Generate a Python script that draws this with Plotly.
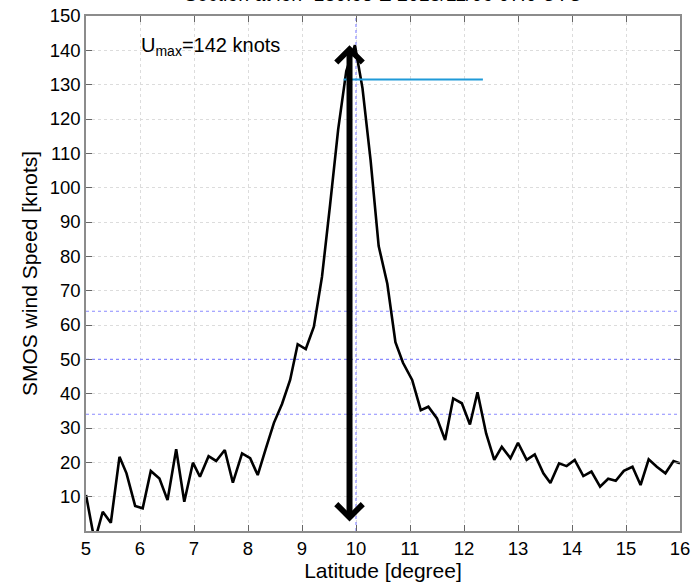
import plotly.graph_objects as go

# Latitude (degree) and SMOS wind speed (knots)
lat = [5.0, 5.16, 5.31, 5.46, 5.62, 5.75, 5.91, 6.05, 6.20, 6.36, 6.51, 6.67, 6.82, 6.98,
       7.11, 7.27, 7.41, 7.57, 7.72, 7.89, 8.04, 8.18, 8.33, 8.48, 8.63, 8.78, 8.92, 9.07,
       9.22, 9.37, 9.52, 9.67, 9.82, 9.98, 10.12, 10.27, 10.42, 10.58, 10.73, 10.87, 11.04,
       11.2, 11.34, 11.5, 11.65, 11.8, 11.96, 12.11, 12.25, 12.41, 12.56, 12.70, 12.86, 13.0,
       13.16, 13.31, 13.47, 13.6, 13.76, 13.9, 14.05, 14.21, 14.36, 14.52, 14.67, 14.81,
       14.96, 15.12, 15.27, 15.42, 15.57, 15.73, 15.88, 16.0]
speed = [10.5, -3, 5.6, 2.4, 21.6, 16.8, 7.3, 6.6, 17.5, 15.3, 9.0, 23.8, 8.5, 19.9,
         15.8, 21.8, 20.4, 23.6, 14.1, 22.6, 21.2, 16.3, 24.0, 31.5, 37.0, 44.0, 54.4, 53.0,
         59.5, 74.0, 95.0, 117.0, 134.0, 141.5, 129.0, 108.0, 83.0, 72.0, 55.0, 49.0, 44.0,
         35.2, 36.2, 32.8, 26.5, 38.6, 37.2, 31.0, 40.4, 28.4, 20.7, 24.5, 21.2, 25.7,
         20.7, 22.3, 16.8, 14.0, 19.7, 18.9, 20.7, 16.0, 17.3, 12.9, 15.2, 14.6,
         17.5, 18.7, 13.4, 20.9, 18.7, 16.8, 20.4, 19.7]

thresholds = [34, 50, 64]          # knots
center_lat = 10.0                  # vertical reference line
umax = 142
arrow_lat = 9.88
arrow_span = [0.3, 141.5]
cyan_level = 131.5
cyan_span = [9.77, 12.35]

x_ticks = list(range(5, 17))
y_ticks = list(range(10, 151, 10))

FONT = "Liberation Sans"
ref_blue = "#8a8aff"

fig = go.Figure()

for t in thresholds:
    fig.add_trace(go.Scatter(x=[5, 16], y=[t, t], mode="lines",
                             line=dict(color=ref_blue, width=1.2, dash="dot"),
                             showlegend=False, hoverinfo="skip"))
fig.add_trace(go.Scatter(x=[center_lat, center_lat], y=[0, 150], mode="lines",
                         line=dict(color=ref_blue, width=1.2, dash="dot"),
                         showlegend=False, hoverinfo="skip"))

fig.add_trace(go.Scatter(x=lat, y=speed, mode="lines",
                         line=dict(color="black", width=2.6),
                         showlegend=False))

fig.add_trace(go.Scatter(x=cyan_span, y=[cyan_level, cyan_level], mode="lines",
                         line=dict(color="#1f9ad8", width=2),
                         showlegend=False, hoverinfo="skip"))

# double-headed arrow
fig.add_annotation(x=arrow_lat, y=arrow_span[1], ax=arrow_lat, ay=arrow_span[0],
                   xref="x", yref="y", axref="x", ayref="y", text=" ",
                   showarrow=True, arrowside="end+start", arrowhead=4,
                   startarrowhead=4, arrowwidth=6, arrowsize=0.85,
                   startarrowsize=0.85, arrowcolor="black")

fig.add_annotation(x=5.98, y=141, xref="x", yref="y", xanchor="left", yanchor="middle",
                   text="U<sub>max</sub>=" + str(umax) + " knots", showarrow=False,
                   font=dict(family=FONT, size=20, color="black"))

fig.add_annotation(x=0.5, y=1.042, xref="paper", yref="paper", xanchor="center",
                   yanchor="middle", showarrow=False,
                   text="Section at lon=130.95 E 2013/11/06 07:0 UTC",
                   font=dict(family=FONT, size=19.5, color="black"))

axis_common = dict(showline=True, linecolor="#8c8c8c", linewidth=1.5, mirror="ticks",
                   ticks="inside", ticklen=6, tickcolor="#666666", tickwidth=1,
                   showgrid=True, gridcolor="#dcdcdc", griddash="dot", gridwidth=1,
                   zeroline=False, automargin=False,
                   tickfont=dict(family=FONT, size=18.5, color="black"))

fig.update_xaxes(range=[5, 16], tickvals=x_ticks,
                 title=dict(text="Latitude [degree]", standoff=2,
                            font=dict(family=FONT, size=21, color="black")),
                 **axis_common)
fig.update_yaxes(range=[0, 150], tickvals=y_ticks,
                 title=dict(text="SMOS wind Speed [knots]", standoff=6,
                            font=dict(family=FONT, size=21, color="black")),
                 **axis_common)

fig.update_layout(width=697, height=583, margin=dict(l=86, r=17, t=16, b=52),
                  paper_bgcolor="white", plot_bgcolor="white",
                  font=dict(family=FONT, color="black"))

fig.write_html("out.html")
